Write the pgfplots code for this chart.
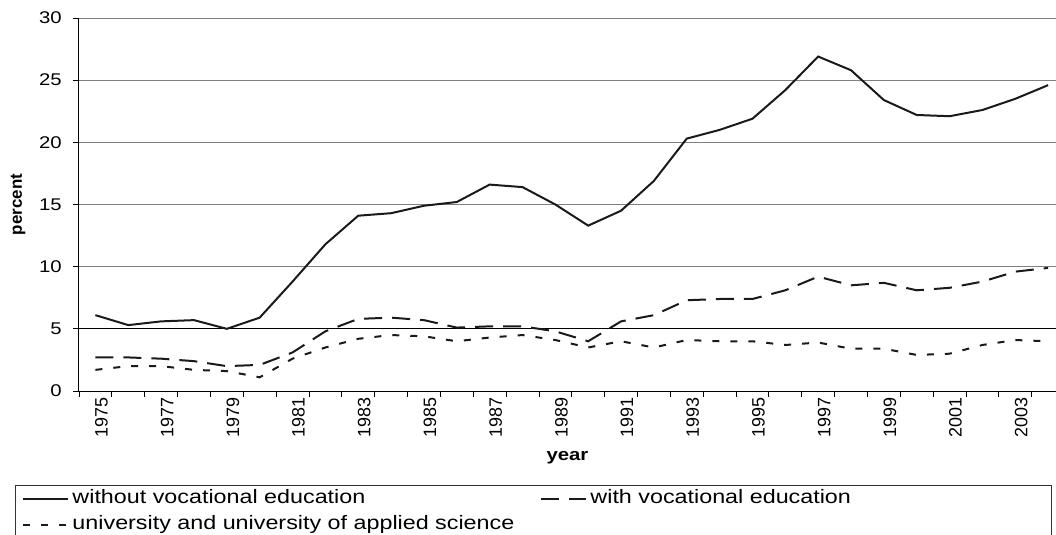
\documentclass[border=0pt]{standalone}
\usepackage{fontspec}
\setmainfont{Liberation Sans}
\newfontfamily\widefont[FakeStretch=1.2]{Liberation Sans}
\usepackage{pgfplots}
\usepackage{pgfplotstable}
\pgfplotsset{compat=1.18}
\pgfplotstableread{
x a b c
0 6.1 2.7 1.7
1 5.3 2.7 2.0
2 5.6 2.6 2.0
3 5.7 2.4 1.7
4 5.0 2.0 1.6
5 5.9 2.1 1.1
6 8.8 3.1 2.6
7 11.8 4.8 3.5
8 14.1 5.8 4.2
9 14.3 5.9 4.5
10 14.9 5.7 4.4
11 15.2 5.1 4.0
12 16.6 5.2 4.3
13 16.4 5.2 4.5
14 15.0 4.8 4.1
15 13.3 4.0 3.5
16 14.5 5.6 4.0
17 16.9 6.1 3.5
18 20.3 7.3 4.1
19 21.0 7.4 4.0
20 21.9 7.4 4.0
21 24.2 8.1 3.7
22 26.9 9.2 3.9
23 25.8 8.5 3.4
24 23.4 8.7 3.4
25 22.2 8.1 2.9
26 22.1 8.3 3.0
27 22.6 8.8 3.7
28 23.5 9.6 4.1
29 24.6 9.9 4.0
}\datatable
\definecolor{gridgray}{HTML}{808080}
\definecolor{linecol}{HTML}{1A1A1A}
\begin{document}
\begin{tikzpicture}
\begin{axis}[
  name=ax,
  scale only axis, width=977bp, height=373bp,
  xmin=-0.5, xmax=29.24, ymin=0, ymax=30,
  axis x line*=bottom, axis y line*=left,
  axis line style={black, line width=1bp, -},
  xtick={0,2,...,28},
  xticklabels={1975,1977,1979,1981,1983,1985,1987,1989,1991,1993,1995,1997,1999,2001,2003},
  major x tick style={draw=none},
  minor xtick={-0.5,0.5,...,28.5},
  minor tick length=6bp, major tick length=6bp,
  tick align=outside,
  tick style={black, line width=0.8bp},
  ytick={0,5,...,30},
  ymajorgrids,
  major grid style={gridgray, line width=1bp},
  extra y ticks={5}, extra y tick labels={},
  extra y tick style={grid=major, major grid style={black, line width=1bp}},
  /pgf/number format/assume math mode=true,
  xticklabel style={font=\fontsize{18}{19}\selectfont, rotate=90, anchor=east, inner sep=0pt, yshift=-6bp},
  yticklabel style={font=\widefont\fontsize{17}{18}\selectfont, anchor=east, inner sep=0pt, xshift=-11bp},
  xlabel={year},
  xlabel style={font=\widefont\bfseries\fontsize{17}{18}\selectfont, at={(axis description cs:0.5,0)}, anchor=center, yshift=-67bp},
  ylabel={percent},
  ylabel style={font=\bfseries\fontsize{17}{18}\selectfont, at={(axis description cs:0,0.5)}, anchor=center, yshift=61bp},
  legend columns=2,
  legend cell align=left,
  legend image code/.code={\draw[#1] (0bp,0bp) -- (45bp,0bp);},
  legend style={at={(0,0)}, anchor=north west, xshift=-64bp, yshift=-94bp,
    draw=black!80, line width=1bp, inner xsep=7bp, inner ysep=0bp, row sep=0bp,
    font=\widefont\fontsize{19.5}{22}\selectfont,
    nodes={inner xsep=3bp, inner ysep=4bp, text height=14bp, text depth=4bp}},
]
\addplot[linecol, line width=2bp] table[x=x, y=a]{\datatable};
\addlegendentry[text width=465bp, align=left]{without vocational education}
\addplot[linecol, line width=2bp, dash pattern=on 18bp off 10bp] table[x=x, y=b]{\datatable};
\addlegendentry[text width=451bp, align=left]{with vocational education}
\addplot[linecol, line width=2bp, dash pattern=on 7bp off 11bp] table[x=x, y=c]{\datatable};
\addlegendentry[text width=465bp, align=left]{university and university of applied science}
\end{axis}
\pgfresetboundingbox
\path[use as bounding box] ([xshift=-79bp,yshift=-144bp]ax.south west) rectangle ([yshift=18bp]ax.north east);
\end{tikzpicture}
\end{document}
